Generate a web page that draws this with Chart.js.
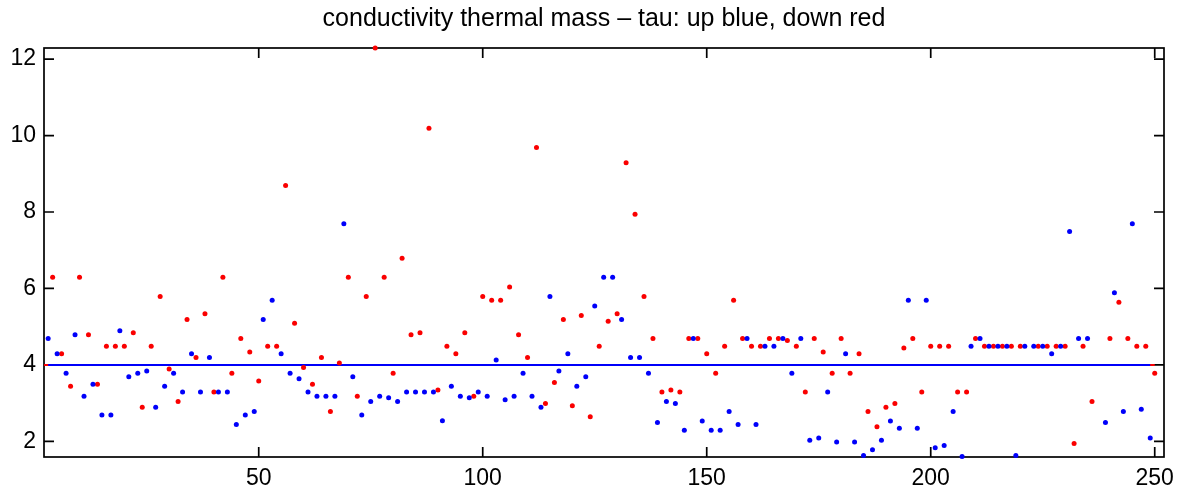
<!DOCTYPE html>
<html>
<head>
<meta charset="utf-8">
<script src="https://cdn.jsdelivr.net/npm/chart.js@4.4.1/dist/chart.umd.min.js"></script>
<style>
  html, body { margin: 0; padding: 0; background: #fff; }
  #wrap { width: 1188px; height: 493px; }
</style>
</head>
<body>
<div id="wrap"><canvas id="tauChart"></canvas></div>
<script>
// up casts (blue): cast number and tau
var upCast = [3,5,7,9,11,13,15,17,19,21, 23,25,27,29,31,33,35,37,39,41,
    43,45,47,49,51,53,55,57,59,61, 63,65,67,69,71,73,75,77,79,81,
    83,85,87,89,91,93,95,97,99,101, 103,105,107,109,111,113,115,117,119,121,
    123,125,127,129,131,133,135,137,139,141, 143,145,147,149,151,153,155,157,159,161,
    163,165,167,169,171,173,175,177,179,181, 183,185,187,189,191,193,195,197,199,201,
    203,205,207,209,211,213,215,217,219,221, 223,225,227,229,231,233,235,
    239,241,243,245,247,249];
var upTau = [4.69,4.29,3.78,4.79,3.18,3.49,2.69,2.69,4.89,3.69,
    3.78,3.84,2.89,3.44,3.78,3.29,4.29,3.29,4.19,3.29,
    3.29,2.44,2.69,2.78,5.19,5.69,4.29,3.78,3.64,3.29,
    3.18,3.18,3.18,7.69,3.69,2.69,3.04,3.18,3.14,3.04,
    3.29,3.29,3.29,3.29,2.54,3.44,3.18,3.14,3.29,3.18,
    4.13,3.09,3.18,3.78,3.18,2.89,5.79,3.84,4.29,3.44,
    3.69,5.54,6.29,6.29,5.19,4.19,4.19,3.78,2.49,3.04,
    2.99,2.29,4.69,2.53,2.29,2.29,2.78,2.44,4.69,2.44,
    4.49,4.49,4.69,3.78,4.69,2.03,2.09,3.29,1.98,4.29,
    1.98,1.63,1.78,2.03,2.53,2.34,5.69,2.34,5.69,1.83,
    1.89,2.78,1.6,4.49,4.69,4.49,4.49,4.49,1.63,4.49,
    4.49,4.49,4.29,4.49,7.49,4.69,4.69,
    2.49,5.89,2.78,7.69,2.84,2.09];

// down casts (red)
var downCast = [4,6,8,10,12,14,16,18,20,22, 24,26,28,30,32,34,36,38,40,42,
    44,46,48,50,52,54,56,58,60,62, 64,66,68,70,72,74,76,78,80,82,
    84,86,88,90,92,94,96,98,100,102, 104,106,108,110,112,114,116,118,120,122,
    124,126,128,130,132,134,136,138,140,142, 144,146,148,150,152,154,156,158,160,162,
    164,166,168,170,172,174,176,178,180,182, 184,186,188,190,192,194,196,198,200,202,
    204,206,208,210,212,214,216,218,220, 224,226,228,230,232,234,236,
    240,242,244,246,248,250];
var downTau = [6.29,4.29,3.44,6.29,4.79,3.49,4.49,4.49,4.49,4.84,
    2.89,4.49,5.79,3.89,3.04,5.19,4.19,5.34,3.29,6.29,
    3.78,4.69,4.34,3.58,4.49,4.49,8.69,5.09,3.93,3.49,
    4.19,2.78,4.05,6.29,3.18,5.79,12.29,6.29,3.78,6.79,
    4.79,4.84,10.19,3.34,4.49,4.29,4.84,3.18,5.79,5.69,
    5.69,6.04,4.79,4.19,9.69,2.99,3.54,5.19,2.93,5.29,
    2.64,4.49,5.14,5.34,9.29,7.94,5.79,4.69,3.29,3.34,
    3.29,4.69,4.69,4.29,3.78,4.49,5.69,4.69,4.49,4.49,
    4.69,4.69,4.64,4.49,3.29,4.69,4.34,3.78,4.69,3.78,
    4.29,2.78,2.38,2.89,2.99,4.44,4.69,3.29,4.49,4.49,
    4.49,3.29,3.29,4.69,4.49,4.49,4.49,4.49,4.49,
    4.49,4.49,4.49,4.49,1.94,4.49,3.04,
    4.69,5.64,4.69,4.49,4.49,3.78];

var refTau = 4;
var upSpan = [3, 249];
var downSpan = [2, 250];
var xTicks = [50, 100, 150, 200, 250];
var yTicks = [2, 4, 6, 8, 10, 12];

function toPoints(xs, ys) {
    return xs.map(function (x, i) { return { x: x, y: ys[i] }; });
}
function flat(span, v) {
    return [{ x: span[0], y: v }, { x: span[1], y: v }];
}

var BLUE = 'rgb(0,0,250)';
var RED = 'rgb(250,0,0)';
var FONT = "'Liberation Sans', Arial, Helvetica, sans-serif";

// matlab-like box with inward ticks on all four sides
var matlabFrame = {
    id: 'matlabFrame',
    beforeDatasetsDraw: function (chart) {
        var ctx = chart.ctx, a = chart.chartArea;
        var xs = chart.scales.x, ys = chart.scales.y;
        var len = 10;
        ctx.save();
        ctx.strokeStyle = '#000';
        ctx.lineWidth = 1.7;
        ctx.strokeRect(a.left, a.top, a.right - a.left, a.bottom - a.top);
        ctx.beginPath();
        xTicks.forEach(function (v) {
            var px = xs.getPixelForValue(v);
            ctx.moveTo(px, a.bottom); ctx.lineTo(px, a.bottom - len);
            ctx.moveTo(px, a.top); ctx.lineTo(px, a.top + len);
        });
        yTicks.forEach(function (v) {
            var py = ys.getPixelForValue(v);
            ctx.moveTo(a.left, py); ctx.lineTo(a.left + len, py);
            ctx.moveTo(a.right, py); ctx.lineTo(a.right - len, py);
        });
        ctx.stroke();
        ctx.restore();
    }
};

var ctx = document.getElementById('tauChart').getContext('2d');
new Chart(ctx, {
    type: 'scatter',
    data: {
        datasets: [
            {
                label: 'up',
                data: toPoints(upCast, upTau),
                backgroundColor: BLUE,
                pointRadius: 2.5,
                pointBorderWidth: 0,
                clip: false,
                order: 1
            },
            {
                label: 'down',
                data: toPoints(downCast, downTau),
                backgroundColor: RED,
                pointRadius: 2.5,
                pointBorderWidth: 0,
                clip: false,
                order: 2
            },
            {
                type: 'line',
                label: 'up ref',
                data: flat(upSpan, refTau),
                borderColor: BLUE,
                borderWidth: 2,
                pointRadius: 0,
                order: 3
            },
            {
                type: 'line',
                label: 'down ref',
                data: flat(downSpan, refTau),
                borderColor: RED,
                borderWidth: 2,
                pointRadius: 0,
                order: 4
            }
        ]
    },
    options: {
        responsive: true,
        maintainAspectRatio: false,
        animation: false,
        layout: { padding: { left: 0, right: 24, top: 0, bottom: 0 } },
        plugins: {
            legend: { display: false },
            tooltip: { enabled: false },
            title: {
                display: true,
                text: 'conductivity thermal mass \u2013 tau: up blue, down red',
                fullSize: false,
                color: '#000',
                font: { family: FONT, size: 25, weight: 'normal' },
                padding: { top: 4, bottom: 14 }
            }
        },
        scales: {
            x: {
                type: 'linear',
                min: 2.07,
                max: 252.07,
                afterBuildTicks: function (s) { s.ticks = xTicks.map(function (v) { return { value: v }; }); },
                afterFit: function (s) { s.height = 36; },
                grid: { display: false, drawTicks: false },
                border: { display: false },
                ticks: {
                    color: '#000',
                    padding: 8,
                    maxRotation: 0,
                    autoSkip: false,
                    font: { family: FONT, size: 23 }
                }
            },
            y: {
                type: 'linear',
                min: 1.59,
                max: 12.29,
                afterBuildTicks: function (s) { s.ticks = yTicks.map(function (v) { return { value: v }; }); },
                afterFit: function (s) { s.width = 44; },
                grid: { display: false, drawTicks: false },
                border: { display: false },
                ticks: {
                    color: '#000',
                    padding: 8,
                    autoSkip: false,
                    font: { family: FONT, size: 23 }
                }
            }
        }
    },
    plugins: [matlabFrame]
});
</script>
</body>
</html>
